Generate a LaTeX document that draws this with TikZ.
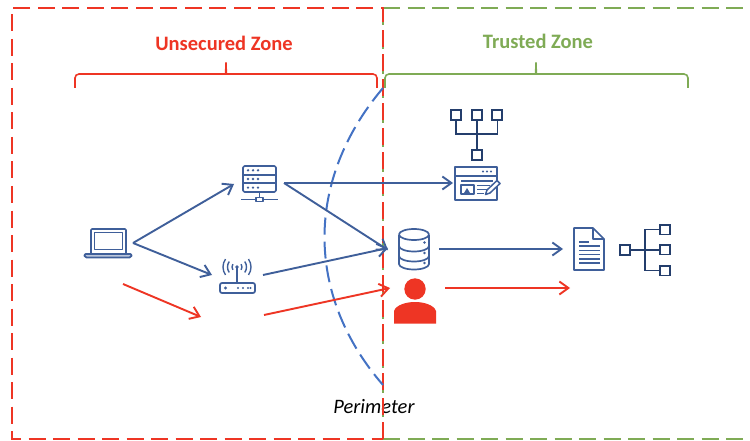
\documentclass[tikz,border=0pt]{standalone}
\usepackage{fontspec}
\setmainfont{Carlito}
\usetikzlibrary{arrows.meta}
\definecolor{zred}{HTML}{EE3524}
\definecolor{zgreen}{HTML}{7FAB55}
\definecolor{zblue}{HTML}{3F5F9A}
\definecolor{zperim}{HTML}{4472C4}
\definecolor{znavy}{HTML}{1F3864}
\tikzset{
  x=1pt,y=-1pt,
  zone/.style={line width=1.7pt,dash pattern=on 17pt off 7.5pt},
  brace/.style={line width=1.6pt,rounded corners=4pt},
  flow/.style={line width=1.9pt,-{Straight Barb[length=9pt,width=13pt,line width=1.9pt]}},
  blueflow/.style={flow,draw=zblue},
  redflow/.style={flow,draw=zred},
  icon/.style={draw=zblue,line width=1.7pt,line join=round},
  treeicon/.style={draw=znavy!85!zblue,line width=1.8pt},
  dot/.style={fill=zblue,draw=none},
  label/.style={inner sep=0pt},
}
\begin{document}
\begin{tikzpicture}
\useasboundingbox[fill=white] (0,0) rectangle (750,441);
% zones
\draw[zone,zgreen] (383,8) -- (750,8);
\draw[zone,zgreen] (383,439) -- (750,439);
\draw[zone,zgreen] (383,8) -- (383,439);
\node[font=\itshape\fontsize{20.5}{22}\selectfont,inner sep=0pt,text=black] (perimeter) at (374,407) {Perimeter};
\draw[zone,zred] (383,439) -- (383,8) -- (12,8) -- (12,439) -- (383,439);
% labels
\node[label,text=zred,font=\bfseries\fontsize{20.5}{22}\selectfont] (unsecured) at (224,43) {Unsecured Zone};
\node[label,text=zgreen,font=\bfseries\fontsize{20.5}{22}\selectfont] (trusted) at (538,41) {Trusted Zone};
% braces
\draw[brace,zred] (75,88) -- (75,74) -- (222,74) .. controls (225,74) and (226,70) .. (226,60) .. controls (226,70) and (227,74) .. (230,74) -- (377,74) -- (377,88);
\draw[brace,zgreen] (385,88) -- (385,74) -- (532,74) .. controls (535,74) and (536,70) .. (536,60) .. controls (536,70) and (537,74) .. (540,74) -- (688,74) -- (688,88);
% perimeter arc
\coordinate (arcTop) at (383,88);
\coordinate (arcBot) at (383,385);
\draw[zperim,line width=2pt,dash pattern=on 17pt off 7pt] (arcTop) .. controls (305,180) and (305,295) .. (arcBot);
% laptop
\draw[icon,rounded corners=1pt] (91,253) -- (91,229) -- (126,229) -- (126,253);
\draw[icon,line width=1.4pt] (94.5,232.5) rectangle (122.5,249.5);
\draw[icon,rounded corners=1.5pt,fill=zblue!35] (84,254) -- (132,254) -- (131,257.5) -- (85,257.5) -- cycle;
% server
\draw[icon,rounded corners=1.5pt] (243,166) rectangle (276,192);
\draw[icon] (243,174.7) -- (276,174.7) (243,183.3) -- (276,183.3);
\foreach \r in {170.3,179,187.6}{\foreach \c in {248,253,258}{\fill[dot] (\c,\r) circle (1.3pt);}}
\draw[icon] (259.5,192) -- (259.5,198) (241,199.5) -- (278,199.5);
\draw[icon,fill=white] (256,197.5) rectangle (263,201.5);
% router
\draw[icon,rounded corners=2pt] (220,283) rectangle (255,293);
\fill[dot] (225.5,288) circle (1.7pt);
\foreach \c in {238,243,248,250.5}{\fill[dot] (\c,288) circle (1.2pt);}
\draw[icon,line width=1.4pt] (237,267) -- (237,283);
\fill[dot] (237,267) circle (1.8pt);
\foreach \ra in {5,9.5,14}{
  \draw[icon,line width=1.4pt] ({237-.82*\ra},{267-.57*\ra}) .. controls ({237-1.06*\ra},{267-.226*\ra}) and ({237-1.06*\ra},{267+.226*\ra}) .. ({237-.82*\ra},{267+.57*\ra});
  \draw[icon,line width=1.4pt] ({237+.82*\ra},{267-.57*\ra}) .. controls ({237+1.06*\ra},{267-.226*\ra}) and ({237+1.06*\ra},{267+.226*\ra}) .. ({237+.82*\ra},{267+.57*\ra});
}
% top tree
\foreach \c in {456,477,497}{\draw[treeicon] (\c-5,110) rectangle (\c+5,120);}
\draw[treeicon] (456,120) -- (456,134) -- (497.5,134) -- (497.5,120) (477,120) -- (477,150);
\draw[treeicon] (472,150) rectangle (482,160);
% browser
\draw[icon] (455,167) rectangle (497,200);
\draw[icon] (455,176) -- (497,176);
\foreach \c in {483,487,491}{\fill[dot] (\c,171.5) circle (1.2pt);}
\draw[icon] (461,181) -- (493,181);
\draw[icon,line width=1.8pt] (461,185) rectangle (474,194);
\fill[dot] (464,193) -- (467,188) -- (470,193) -- cycle;
\draw[icon,line width=1.3pt] (477,185.5) -- (490,185.5) (477,189.5) -- (487,189.5) (477,193.5) -- (484,193.5);
\draw[icon,fill=white,line width=1.5pt] (485.5,194.5) -- (487,190) -- (497,180.5) -- (500,183.5) -- (490,193) -- cycle;
% database
\draw[icon] (399,235) -- (399,264) arc[x radius=15,y radius=5.5,start angle=180,end angle=0] -- (429,235);
\draw[icon] (414,234.5) ellipse[x radius=15,y radius=5.5];
\draw[icon] (399,246) arc[x radius=15,y radius=5.5,start angle=180,end angle=0];
\draw[icon] (399,256) arc[x radius=15,y radius=5.5,start angle=180,end angle=0];
\foreach \r in {242.5,253,263}{\fill[dot] (424.5,\r) circle (1.3pt);}
% person
\fill[zred] (415,289) circle (10.7pt);
\fill[zred] (394,323.5) -- (394,311) .. controls (396,305) and (406,302) .. (415,302) .. controls (424,302) and (434,305) .. (436,311) -- (436,323.5) -- cycle;
% document
\draw[icon] (574,228) -- (593,228) -- (604,239) -- (604,270) -- (574,270) -- cycle;
\draw[icon] (593,228) -- (593,239) -- (604,239);
\draw[icon,line width=1.5pt] (579,242) -- (589,242);
\foreach \r in {246,250.5,254.5,259,263}{\draw[icon,line width=1.5pt] (579,\r) -- (600,\r);}
% right tree
\draw[treeicon] (620,245) rectangle (630,255);
\draw[treeicon] (630,250) -- (660,250);
\draw[treeicon] (660,229.5) -- (645,229.5) -- (645,270.5) -- (660,270.5);
\draw[treeicon] (660,225) rectangle (670,234.5);
\draw[treeicon] (660,245) rectangle (670,254.5);
\draw[treeicon] (660,266) rectangle (670,275.5);
% connector ends
\coordinate (laptopOut) at (133,243);
\coordinate (serverIn) at (234,184);
\coordinate (routerIn) at (212,275);
\coordinate (serverOut) at (284,183);
\coordinate (browserIn) at (453,183);
\coordinate (dbIn) at (388,250);
\coordinate (routerOut) at (263,275);
\coordinate (dbIn2) at (388,248);
\coordinate (dbOut) at (439,249);
\coordinate (docIn) at (563,249);
\coordinate (redA) at (123,284);
\coordinate (redB) at (201,317);
\coordinate (redC) at (264,315);
\coordinate (redD) at (390,288);
\coordinate (redE) at (445,288);
\coordinate (redF) at (570,288);
% connectors
\draw[blueflow] (laptopOut) -- (serverIn);
\draw[blueflow] (laptopOut) -- (routerIn);
\draw[blueflow] (serverOut) -- (browserIn);
\draw[blueflow] (serverOut) -- (dbIn);
\draw[blueflow] (routerOut) -- (dbIn2);
\draw[blueflow] (dbOut) -- (docIn);
\draw[redflow] (redA) -- (redB);
\draw[redflow] (redC) -- (redD);
\draw[redflow] (redE) -- (redF);
\end{tikzpicture}
\end{document}
